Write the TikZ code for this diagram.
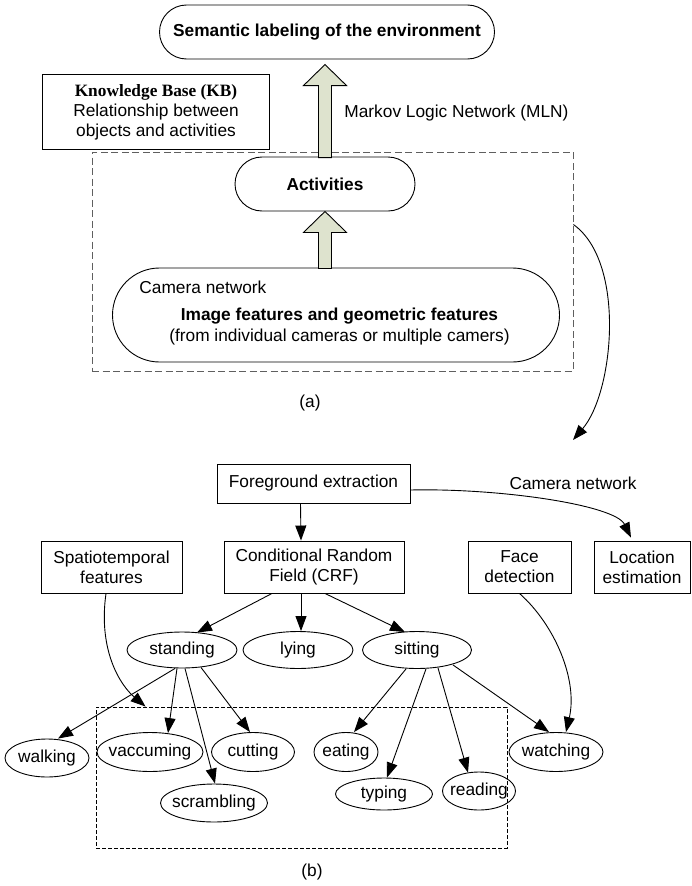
\documentclass[tikz,border=0pt]{standalone}
\usepackage{fontspec}
\setmainfont{Liberation Sans}
\newfontfamily\kbserif{Liberation Serif}
\usetikzlibrary{arrows.meta,calc,shapes.geometric}
\definecolor{arrowfill}{RGB}{222,227,206}
\definecolor{dashgray}{RGB}{95,95,95}
\newcommand\ctext[1]{\makebox[0pt]{#1}}
\begin{document}
\begin{tikzpicture}[x=1pt,y=-1pt,line width=0.9pt,
  every node/.style={font=\fontsize{17.3}{20}\selectfont,inner sep=0pt},
  box/.style={draw,rectangle,align=center},
  oval/.style={draw,ellipse,inner sep=0pt},
  bigarrow/.style={draw,fill=arrowfill,line join=miter},
  arr/.style={-{Triangle[length=15pt,width=11pt]}},
  groupa/.style={draw=dashgray,dash pattern=on 7pt off 3.5pt},
  groupb/.style={draw,dash pattern=on 4pt off 2pt}]
\useasboundingbox (0,0) rectangle (691,886);

% ---------- (a) ----------
\node[draw,rounded corners=27pt,minimum width=335pt,minimum height=54pt] (sem) at (327,32)
  {\bfseries Semantic labeling of the environment};
\node[box,minimum width=227pt,minimum height=75pt] (kb) at (156,112)
  {{\kbserif\bfseries Knowledge Base (KB)}\\Relationship between\\objects and activities};
\node[groupa,minimum width=481pt,minimum height=219pt] (boxa) at (332.5,261.5) {};
\node[draw,fill=white,rounded corners=27pt,minimum width=180pt,minimum height=54pt] (act) at (325,184)
  {\bfseries Activities};
\node[draw,rounded corners=47pt,minimum width=447pt,minimum height=94pt] (cam) at (336,315) {};
\node[anchor=west] (camlabel) at (139,287) {Camera network};
\node[align=center] (feat) at (339.5,326.5)
  {\bfseries Image features and geometric features\\[1pt](from individual cameras or multiple camers)};
\node[anchor=west] (mln) at (344,113) {Markov Logic Network (MLN)};
\node (capa) at (310,403) {(a)};

% block arrows
\draw[bigarrow] (act.north) ++(-6.5,1) -- ++(0,-72) -- ++(-15,0) -- ++(21.5,-21)
  -- ++(21.5,21) -- ++(-15,0) -- ++(0,72) -- cycle;
\draw[bigarrow] (act.south) ++(-6.5,57) -- ++(0,-36) -- ++(-15,0) -- ++(21.5,-21)
  -- ++(21.5,21) -- ++(-15,0) -- ++(0,36) -- cycle;

% link to (b)
\coordinate (bin) at (573,440);
\draw[arr] ($(boxa.north east)+(0,73)$) .. controls (626,262) and (614,392) .. (bin);

% ---------- (b) ----------
\node[box,minimum width=193pt,minimum height=39pt] (fg) at (313.5,483.5) {Foreground extraction};
\node (camnet) at (573,483) {Camera network};
\node[box,minimum width=141pt,minimum height=52pt] (spatio) at (111.5,567) {Spatiotemporal\\features};
\node[box,minimum width=180pt,minimum height=52pt] (crf) at (314,567) {Conditional Random\\Field (CRF)};
\node[box,minimum width=103pt,minimum height=52pt] (face) at (519.5,567) {Face\\detection};
\node[box,minimum width=96pt,minimum height=52pt] (loc) at (642,567) {Location\\estimation};

\node[oval,minimum width=110pt,minimum height=36pt] (standing) at (182,650) {\ctext{standing}};
\node[oval,minimum width=110pt,minimum height=37pt] (lying) at (298,650) {\ctext{lying}};
\node[oval,minimum width=109pt,minimum height=37pt] (sitting) at (417,650) {\ctext{sitting}};
\node[oval,minimum width=84pt,minimum height=38pt] (walking) at (47,758) {\ctext{walking}};
\node[oval,minimum width=106pt,minimum height=39pt] (vacc) at (150,752) {\ctext{vaccuming}};
\node[oval,minimum width=83pt,minimum height=39pt] (cutting) at (253,752) {\ctext{cutting}};
\node[oval,minimum width=107pt,minimum height=38pt] (scram) at (214,803) {\ctext{scrambling}};
\node[oval,minimum width=64pt,minimum height=39pt] (eating) at (346,752) {\ctext{eating}};
\node[oval,minimum width=97pt,minimum height=32pt] (typing) at (384,794) {\ctext{typing}};
\node[oval,minimum width=73pt,minimum height=38pt] (reading) at (479,791) {\ctext{reading}};
\node[oval,minimum width=94pt,minimum height=39pt] (watching) at (556,752) {\ctext{watching}};

\node[groupb,minimum width=411pt,minimum height=141pt] (boxb) at (301.5,777.5) {};
\node (capb) at (312,872) {(b)};

% connectors
\draw[arr] ($(fg.south)+(-13,0)$) -- ($(crf.north)+(-13,0)$);
\draw[arr] ($(fg.east)+(0,6.5)$) .. controls (500,488) and (615,505) .. ($(loc.north)+(-11,-3)$);
\draw[arr] ($(crf.south)+(-42,0)$) -- ($(standing.north)+(15,1)$);
\draw[arr] ($(crf.south)+(-13,0)$) -- ($(lying.north)+(3,0)$);
\draw[arr] ($(crf.south)+(11,0)$) -- ($(sitting.north)+(-12,1)$);

\draw[arr] ($(standing.south)+(-7,0)$) -- ($(walking.north)+(11,0)$);
\draw[arr] ($(standing.south)+(-5,0)$) -- ($(vacc.north)+(18,1)$);
\draw[arr] ($(standing.south)+(3,0)$) -- ($(scram.north)+(1,0)$);
\draw[arr] ($(standing.south)+(19,-1)$) -- ($(cutting.north)+(-3,0)$);

\draw[arr] ($(sitting.south)+(-11,0)$) -- ($(eating.north)+(8,0)$);
\draw[arr] ($(sitting.south)+(9,0)$) -- ($(typing.north)+(3,0)$);
\draw[arr] ($(sitting.south)+(21,-1)$) -- ($(reading.north)+(-11,1)$);
\draw[arr] ($(sitting.south)+(36,-4)$) -- ($(watching.north)+(-7,0)$);

\draw[arr] (face.south) .. controls (555,625) and (578,680) .. ($(watching.north)+(10,0)$);
\draw[arr] ($(spatio.south)+(-5.5,0)$) .. controls (98,650) and (120,685) .. ($(boxb.north west)+(50,0)$);
\end{tikzpicture}
\end{document}
